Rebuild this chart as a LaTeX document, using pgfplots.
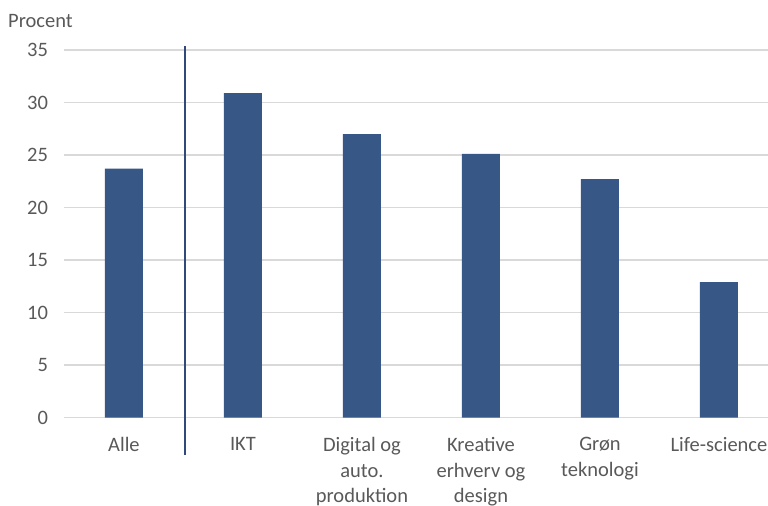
\documentclass[border=0pt]{standalone}
\usepackage{fontspec}
\setmainfont{Carlito}
\usepackage{pgfplots}
\pgfplotsset{compat=1.18}
\definecolor{barblue}{RGB}{55,87,135}
\definecolor{sepblue}{RGB}{47,74,122}
\definecolor{gridgray}{RGB}{217,217,217}
\definecolor{txtgray}{RGB}{89,89,89}
\begin{document}
\fontsize{20.5bp}{25.5bp}\selectfont
\begin{tikzpicture}
\begin{axis}[
    scale only axis,
    width=704bp, height=367.5bp,
    xmin=-0.504, xmax=5.412,
    ymin=0, ymax=35,
    ytick={0,5,10,15,20,25,30,35},
    xtick={0,1,2,3,4,5},
    xticklabels={Alle, IKT, {Digital og\\auto.\\produktion}, {Kreative\\erhverv og\\design}, {Grøn\\teknologi}, Life-science},
    xticklabel style={align=center, yshift=-13bp, text=txtgray},
    yticklabel style={xshift=-9bp, text=txtgray},
    /pgf/number format/assume math mode=true,
    major tick length=0pt,
    axis line style={draw=none},
    ymajorgrids,
    grid style={gridgray, line width=1.5bp},
    clip=false,
    font=\fontsize{20.5bp}{25.5bp}\selectfont,
]
\addplot[ybar, bar width=38bp, fill=barblue, draw=none] coordinates {
    (0,23.7) (1,30.9) (2,27.0) (3,25.1) (4,22.7) (5,12.9)
};
% separator between "Alle" and the sectors
\draw[sepblue, line width=1.6bp] (axis cs:0.513,35.38) -- (axis cs:0.513,-3.57);
\node[anchor=base west, text=txtgray, inner sep=0pt] at ([shift={(-56bp,23bp)}]rel axis cs:0,1) {Procent};
\coordinate (bl) at (rel axis cs:0,0);
\coordinate (tr) at (rel axis cs:1,1);
\end{axis}
\pgfresetboundingbox
\useasboundingbox ([shift={(-64bp,-88.5bp)}]bl) rectangle ([shift={(0bp,50bp)}]tr);
\end{tikzpicture}
\end{document}
